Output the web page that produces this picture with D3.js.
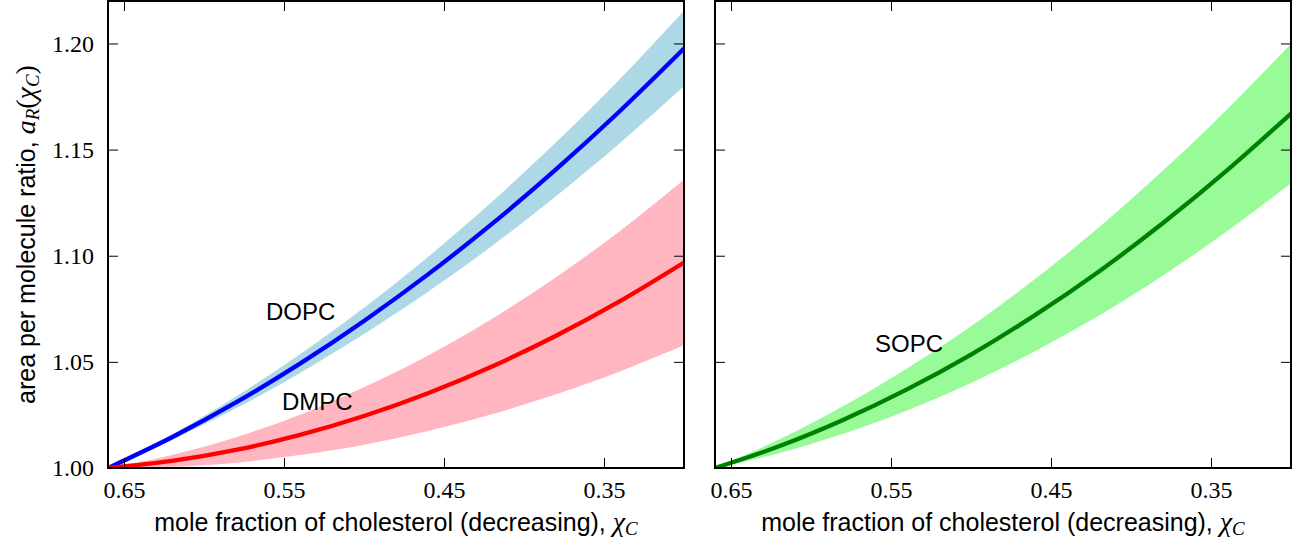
<!DOCTYPE html>
<html>
<head>
<meta charset="utf-8">
<script src="https://cdn.jsdelivr.net/npm/d3@7"></script>
<style>
  body { margin: 0; background: #fff; }
</style>
</head>
<body>
<script>
// mole fraction of cholesterol
const chi = [0.66, 0.62, 0.58, 0.54, 0.50, 0.46, 0.42, 0.38, 0.34, 0.30];

const dopcMean = [1.000, 1.0145, 1.0309, 1.0492, 1.0693, 1.0912, 1.1150, 1.1407, 1.1682, 1.1976];
const dopcHi   = [1.000, 1.0158, 1.0337, 1.0536, 1.0755, 1.0994, 1.1254, 1.1534, 1.1833, 1.2154];
const dopcLo   = [1.000, 1.0132, 1.0281, 1.0448, 1.0631, 1.0830, 1.1046, 1.1280, 1.1531, 1.1798];

const dmpcMean = [1.000, 1.0033, 1.0085, 1.0156, 1.0245, 1.0352, 1.0478, 1.0623, 1.0786, 1.0968];
const dmpcHi   = [1.000, 1.0061, 1.0145, 1.0251, 1.0380, 1.0530, 1.0703, 1.0899, 1.1117, 1.1358];
const dmpcLo   = [1.000, 1.0005, 1.0025, 1.0061, 1.0110, 1.0174, 1.0253, 1.0347, 1.0455, 1.0578];

const sopcMean = [1.000, 1.0102, 1.0226, 1.0370, 1.0534, 1.0720, 1.0926, 1.1154, 1.1402, 1.1670];
const sopcHi   = [1.000, 1.0134, 1.0291, 1.0469, 1.0668, 1.0890, 1.1134, 1.1401, 1.1689, 1.1999];
const sopcLo   = [1.000, 1.0070, 1.0161, 1.0271, 1.0400, 1.0550, 1.0718, 1.0907, 1.1115, 1.1341];

const xTicks = [0.65, 0.55, 0.45, 0.35];
const yTicks = [1.00, 1.05, 1.10, 1.15, 1.20];

const width = 1308, height = 546;
const plotTop = 1, plotBottom = 468;
const panelW = 576;

const svg = d3.select("body").append("svg")
    .attr("width", width)
    .attr("height", height);

const y = d3.scaleLinear().domain([1.0, 1.22]).range([plotBottom, plotTop]);

function rows(mean, lo, hi) {
    return chi.map((c, i) => ({c: c, m: mean[i], lo: lo[i], hi: hi[i]}));
}

const panels = [
    {left: 108, showY: true, series: [
        {name: "DOPC", data: rows(dopcMean, dopcLo, dopcHi), line: "#0000ff", band: "#add8e6", lx: 0.5613, ly: 1.0697},
        {name: "DMPC", data: rows(dmpcMean, dmpcLo, dmpcHi), line: "#ff0000", band: "#ffb6c1", lx: 0.5513, ly: 1.0272}
    ]},
    {left: 715, showY: false, series: [
        {name: "SOPC", data: rows(sopcMean, sopcLo, sopcHi), line: "#008000", band: "#98fb98", lx: 0.5600, ly: 1.0546}
    ]}
];

const sans = "Liberation Sans, Arial, sans-serif";
const serif = "Liberation Serif, Times New Roman, serif";

panels.forEach((p, pi) => {
    const x = d3.scaleLinear().domain([0.66, 0.30]).range([p.left, p.left + panelW]);
    const g = svg.append("g");

    g.append("clipPath").attr("id", "clip" + pi)
        .append("rect")
        .attr("x", p.left).attr("y", plotTop)
        .attr("width", panelW).attr("height", plotBottom - plotTop);

    const plot = g.append("g").attr("clip-path", "url(#clip" + pi + ")");

    const area = d3.area()
        .x(d => x(d.c))
        .y0(d => y(d.lo))
        .y1(d => y(d.hi))
        .curve(d3.curveMonotoneX);

    const line = d3.line()
        .x(d => x(d.c))
        .y(d => y(d.m))
        .curve(d3.curveMonotoneX);

    p.series.forEach(s => {
        plot.append("path").datum(s.data)
            .attr("d", area)
            .attr("fill", s.band);
    });
    p.series.forEach(s => {
        plot.append("path").datum(s.data)
            .attr("d", line)
            .attr("fill", "none")
            .attr("stroke", s.line)
            .attr("stroke-width", 4.3);
    });

    p.series.forEach(s => {
        g.append("text")
            .attr("x", x(s.lx))
            .attr("y", y(s.ly))
            .attr("font-family", sans)
            .attr("font-size", 24)
            .text(s.name);
    });

    // axes, ticks pointing inward
    const bottomAxis = d3.axisBottom(x).tickValues(xTicks)
        .tickFormat(d3.format(".2f")).tickSizeInner(-10).tickSizeOuter(0).tickPadding(13);
    const topAxis = d3.axisTop(x).tickValues(xTicks)
        .tickFormat("").tickSizeInner(-10).tickSizeOuter(0);
    const leftAxis = d3.axisLeft(y).tickValues(yTicks)
        .tickFormat(p.showY ? d3.format(".2f") : "").tickSizeInner(-10).tickSizeOuter(0).tickPadding(14);
    const rightAxis = d3.axisRight(y).tickValues(yTicks)
        .tickFormat("").tickSizeInner(-10).tickSizeOuter(0);

    const axes = [
        g.append("g").attr("transform", `translate(0,${plotBottom})`).call(bottomAxis),
        g.append("g").attr("transform", `translate(0,${plotTop})`).call(topAxis),
        g.append("g").attr("transform", `translate(${p.left},0)`).call(leftAxis),
        g.append("g").attr("transform", `translate(${p.left + panelW},0)`).call(rightAxis)
    ];
    axes.forEach(a => {
        a.select(".domain").remove();
        a.selectAll(".tick line").attr("stroke", "#000").attr("stroke-width", 1);
        a.selectAll(".tick text")
            .attr("fill", "#000")
            .attr("font-family", serif)
            .attr("font-size", 24);
    });

    g.append("rect")
        .attr("x", p.left).attr("y", plotTop)
        .attr("width", panelW).attr("height", plotBottom - plotTop)
        .attr("fill", "none")
        .attr("stroke", "#000")
        .attr("stroke-width", 2);

    // x axis title
    const xt = g.append("text")
        .attr("x", p.left + panelW / 2)
        .attr("y", 531)
        .attr("text-anchor", "middle")
        .attr("font-family", sans)
        .attr("font-size", 25);
    xt.append("tspan").text("mole fraction of cholesterol (decreasing), ");
    xt.append("tspan").attr("font-family", serif).attr("font-style", "italic").attr("font-size", 28).text("χ");
    xt.append("tspan").attr("font-family", serif).attr("font-style", "italic")
        .attr("font-size", 19).attr("dy", 4).text("C");
});

// y axis title
const yt = svg.append("text")
    .attr("transform", `translate(35,${(plotTop + plotBottom) / 2}) rotate(-90)`)
    .attr("text-anchor", "middle")
    .attr("font-family", sans)
    .attr("font-size", 25);
yt.append("tspan").text("area per molecule ratio, ");
yt.append("tspan").attr("font-family", serif).attr("font-style", "italic").attr("font-size", 28).text("a");
yt.append("tspan").attr("font-family", serif).attr("font-style", "italic")
    .attr("font-size", 19).attr("dy", 4).text("R");
yt.append("tspan").attr("font-family", serif).attr("font-size", 28).attr("dy", -4).text("(");
yt.append("tspan").attr("font-family", serif).attr("font-style", "italic").attr("font-size", 28).text("χ");
yt.append("tspan").attr("font-family", serif).attr("font-style", "italic")
    .attr("font-size", 19).attr("dy", 4).text("C");
yt.append("tspan").attr("font-family", serif).attr("font-size", 28).attr("dy", -4).text(")");
</script>
</body>
</html>
